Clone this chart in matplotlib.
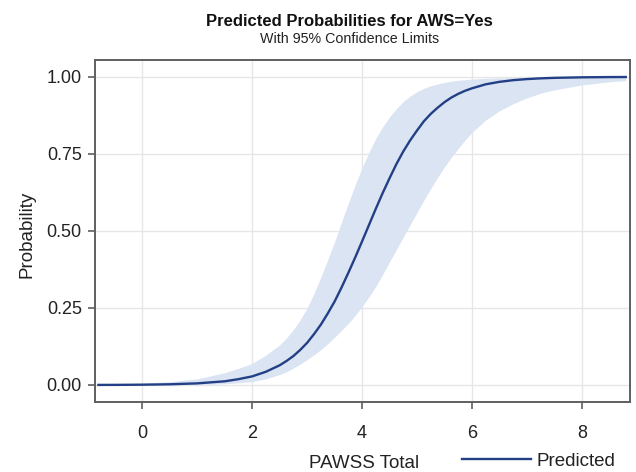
import numpy as np
import matplotlib
matplotlib.use('Agg')
import matplotlib.pyplot as plt

plt.rcParams['font.family'] = ['Liberation Sans', 'DejaVu Sans']

# PAWSS total score grid and read-off probabilities
pawss = [-0.8, -0.5, 0.0, 0.5, 1.0, 1.5, 1.75, 2.0, 2.25,
         2.5, 2.625, 2.75, 2.875, 3.0, 3.125, 3.25, 3.375, 3.5, 3.625, 3.75, 3.875,
         4.0, 4.125, 4.25, 4.375, 4.5, 4.625, 4.75, 4.875, 5.0, 5.125, 5.25, 5.375,
         5.5, 5.625, 5.75, 5.875, 6.0, 6.25, 6.5, 6.75, 7.0, 7.25, 7.5, 8.0, 8.5, 8.8]
predicted = [0.0003, 0.0004, 0.001, 0.0023, 0.0053, 0.012, 0.019, 0.028, 0.043,
             0.064, 0.078, 0.094, 0.114, 0.137, 0.165, 0.196, 0.232, 0.271, 0.316,
             0.364, 0.414, 0.466, 0.519, 0.572, 0.623, 0.671, 0.717, 0.758, 0.794,
             0.826, 0.856, 0.880, 0.900, 0.918, 0.933, 0.945, 0.955, 0.963, 0.976,
             0.984, 0.9894, 0.993, 0.9954, 0.997, 0.9987, 0.9995, 0.9997]
lower_cl = [0.0, 0.0, 0.0001, 0.0004, 0.001, 0.004, 0.007, 0.011, 0.02,
            0.034, 0.043, 0.055, 0.068, 0.083, 0.098, 0.115, 0.134, 0.155, 0.177,
            0.20, 0.226, 0.255, 0.286, 0.32, 0.359, 0.40, 0.44, 0.48, 0.52, 0.56,
            0.60, 0.638, 0.674, 0.708, 0.739, 0.768, 0.795, 0.82, 0.86, 0.89,
            0.913, 0.932, 0.947, 0.958, 0.974, 0.984, 0.988]
upper_cl = [0.002, 0.003, 0.006, 0.011, 0.02, 0.04, 0.054, 0.07, 0.097,
            0.13, 0.153, 0.18, 0.212, 0.25, 0.297, 0.35, 0.406, 0.465, 0.528,
            0.59, 0.65, 0.705, 0.755, 0.80, 0.838, 0.87, 0.897, 0.92, 0.938,
            0.952, 0.963, 0.971, 0.977, 0.982, 0.986, 0.989, 0.991, 0.993, 0.9955,
            0.997, 0.998, 0.9985, 0.999, 0.9993, 0.9997, 0.9999, 1.0]

xticks = [0, 2, 4, 6, 8]
yticks = [0.0, 0.25, 0.5, 0.75, 1.0]

line_col = '#233f86'
band_col = '#dae4f2'
axis_col = '#5f5f5f'

fig = plt.figure(figsize=(6.36, 4.72), dpi=100)
ax = fig.add_axes([0.1494, 0.1483, 0.8412, 0.7256])

ax.fill_between(pawss, lower_cl, upper_cl, color=band_col, lw=0, zorder=2)
line, = ax.plot(pawss, predicted, color=line_col, lw=1.7, zorder=3, label='Predicted')

ax.set_xlim(-0.861, 8.878)
ax.set_ylim(-0.0552, 1.0565)
ax.set_xticks(xticks)
ax.set_yticks(yticks)
ax.set_yticklabels(['%.2f' % v for v in yticks])
ax.grid(True, color='#e6e6e6', lw=1, zorder=0)
ax.set_axisbelow(True)

for s in ax.spines.values():
    s.set_color(axis_col)
    s.set_linewidth(1.4)
ax.tick_params(axis='both', colors=axis_col, labelcolor='#222222', labelsize=13,
               length=5, width=1.2)
ax.tick_params(axis='x', pad=11.5)
ax.tick_params(axis='y', pad=4.5)

fig.text(0.5495, 1 - 26 / 472, 'Predicted Probabilities for AWS=Yes',
         ha='center', va='baseline', fontsize=12, fontweight='bold', color='#111111')
fig.text(0.5495, 1 - 43.3 / 472, 'With 95% Confidence Limits',
         ha='center', va='baseline', fontsize=10.3, color='#222222')

fig.text(27 / 636, 1 - 234 / 472, 'Probability', rotation=90, ha='center',
         va='center', fontsize=13.5, color='#222222')
fig.text(364 / 636, 1 - 468 / 472, 'PAWSS Total', ha='center', va='baseline',
         fontsize=13.5, color='#222222')

fig.legend(handles=[line], loc='center left', bbox_to_anchor=(461.7 / 636, 1 - 461 / 472),
           frameon=False, fontsize=13.5, handlelength=3.7, handletextpad=0.3,
           borderpad=0, borderaxespad=0, labelcolor='#222222')

fig.savefig('out.png', dpi=100)
